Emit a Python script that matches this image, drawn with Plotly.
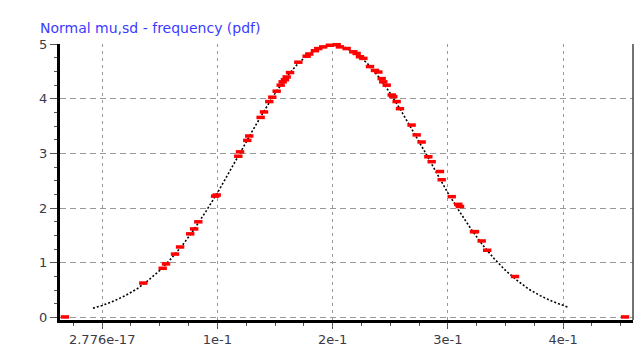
import plotly.graph_objects as go

# Dotted pdf curve
curve_x = [-0.008, 0.0, 0.01, 0.02, 0.03, 0.04, 0.05, 0.06, 0.07, 0.08, 0.09, 0.10,
           0.11, 0.12, 0.13, 0.14, 0.15, 0.16, 0.17, 0.18, 0.19, 0.20, 0.21, 0.22,
           0.23, 0.24, 0.25, 0.26, 0.27, 0.28, 0.29, 0.30, 0.31, 0.32, 0.33, 0.34,
           0.35, 0.36, 0.37, 0.38, 0.39, 0.40, 0.404]
curve_y = [0.17, 0.22, 0.30, 0.40, 0.52, 0.68, 0.86, 1.08, 1.33, 1.62, 1.94, 2.28,
           2.65, 3.03, 3.40, 3.76, 4.10, 4.40, 4.65, 4.83, 4.95, 4.99, 4.95, 4.83,
           4.65, 4.40, 4.10, 3.76, 3.40, 3.03, 2.65, 2.28, 1.94, 1.62, 1.33, 1.08,
           0.86, 0.68, 0.52, 0.40, 0.30, 0.22, 0.19]

# Red sample markers (frequency)
pts_x = [-0.0323, 0.0357, 0.0525, 0.0554, 0.0632, 0.0676, 0.0764, 0.0798, 0.0834,
         0.0980, 0.0994, 0.1181, 0.1196, 0.1259, 0.1276, 0.1375, 0.1404, 0.1450,
         0.1476, 0.1514, 0.1549, 0.1566, 0.1586, 0.1601, 0.1630, 0.1702, 0.1774,
         0.1797, 0.1846, 0.1875, 0.1918, 0.1976, 0.2035, 0.2063, 0.2121, 0.2179,
         0.2208, 0.2237, 0.2266, 0.2324, 0.2367, 0.2396, 0.2425, 0.2439, 0.2469,
         0.2512, 0.2526, 0.2555, 0.2584, 0.2685, 0.2729, 0.2772, 0.2830, 0.2859,
         0.2931, 0.2946, 0.3033, 0.3090, 0.3105, 0.3226, 0.3235, 0.3293, 0.3341,
         0.3582, 0.4537]
pts_y = [0.01, 0.63, 0.90, 0.98, 1.16, 1.29, 1.53, 1.62, 1.75,
         2.22, 2.24, 2.95, 3.03, 3.24, 3.32, 3.66, 3.76, 3.95,
         4.03, 4.14, 4.25, 4.31, 4.35, 4.40, 4.48, 4.67, 4.78,
         4.82, 4.88, 4.92, 4.95, 4.98, 4.99, 4.95, 4.92, 4.86,
         4.83, 4.77, 4.74, 4.59, 4.52, 4.49, 4.37, 4.31, 4.25,
         4.07, 4.04, 3.95, 3.82, 3.52, 3.34, 3.21, 2.94, 2.85,
         2.67, 2.52, 2.21, 2.07, 2.03, 1.57, 1.57, 1.40, 1.23,
         0.75, 0.01]

x_tickvals = [0.0, 0.1, 0.2, 0.3, 0.4]
x_ticktext = ["2.776e-17", "1e-1", "2e-1", "3e-1", "4e-1"]
y_tickvals = [0, 1, 2, 3, 4, 5]
y_ticktext = ["0", "1", "2", "3", "4", "5"]

fig = go.Figure()
fig.add_trace(go.Scatter(
    x=curve_x, y=curve_y, mode="lines",
    line=dict(color="black", width=1.6, dash="2px,2px"),
    hoverinfo="skip", showlegend=False))
fig.add_trace(go.Scatter(
    x=pts_x, y=pts_y, mode="markers",
    marker=dict(symbol="line-ew", size=6, color="red",
                line=dict(color="#ff0000", width=3.5)),
    cliponaxis=False, showlegend=False))

tick_font = dict(family="DejaVu Sans", size=13, color="#3a3a48")

fig.update_layout(
    width=638, height=354,
    margin=dict(l=60, r=5, t=44, b=34),
    paper_bgcolor="white", plot_bgcolor="white",
    title=dict(text="Normal mu,sd - frequency (pdf)",
               font=dict(family="DejaVu Sans", size=14, color="#3b3bff"),
               xref="container", yref="container",
               x=40 / 638, xanchor="left", y=1 - 28 / 354, yanchor="middle"),
    xaxis=dict(range=[-0.0366, 0.4606], tickvals=x_tickvals, ticktext=x_ticktext,
               showgrid=True, gridcolor="#999999", griddash="3px,4px", gridwidth=1.2,
               zeroline=False, showline=True, linecolor="black", linewidth=2.5,
               ticks="outside", ticklen=6, tickcolor="#555555", tickwidth=1,
               tickfont=tick_font,
               minor=dict(dtick=0.025, tick0=0, ticks="outside", ticklen=3,
                          tickcolor="#555555", showgrid=False)),
    yaxis=dict(range=[-0.046, 5.003], tickvals=y_tickvals, ticktext=y_ticktext,
               showgrid=True, gridcolor="#999999", griddash="6px,4px", gridwidth=1.2,
               zeroline=False, showline=True, linecolor="black", linewidth=3,
               ticks="outside", ticklen=7, tickcolor="#555555", tickwidth=1,
               tickfont=tick_font,
               minor=dict(dtick=0.25, tick0=0, ticks="outside", ticklen=3,
                          tickcolor="#555555", showgrid=False)),
    shapes=[dict(type="line", xref="paper", yref="paper", x0=1, x1=1, y0=0, y1=1,
                 line=dict(color="#444444", width=1.5))],
)

fig.write_html("out.html")
